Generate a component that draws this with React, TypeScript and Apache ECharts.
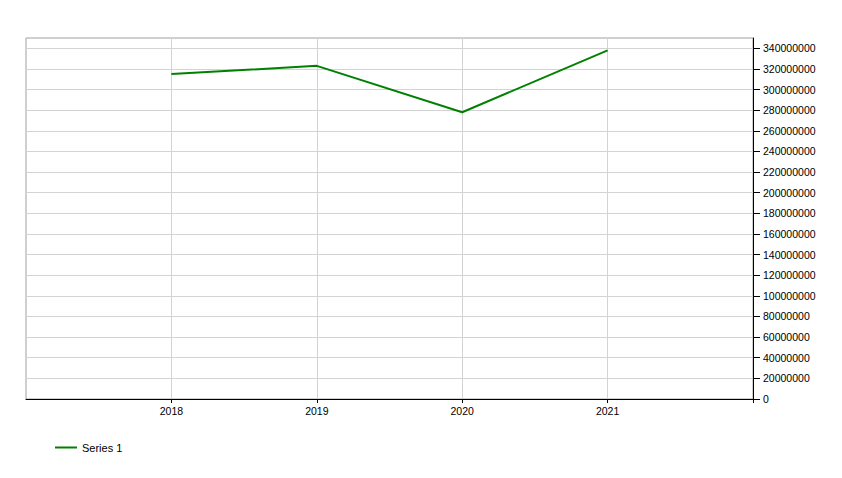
import React, { useEffect, useRef } from "react";
import * as echarts from "echarts";

const categories = [2018, 2019, 2020, 2021];
const seriesName = "Series 1";
const seriesValues = [315000000, 323000000, 278000000, 338000000];
const yTicks = [
  0, 20000000, 40000000, 60000000, 80000000, 100000000, 120000000, 140000000,
  160000000, 180000000, 200000000, 220000000, 240000000, 260000000, 280000000,
  300000000, 320000000, 340000000,
];
const xTickValues = [2018, 2019, 2020, 2021, 2022];

export default function App() {
  const ref = useRef<HTMLDivElement>(null);
  useEffect(() => {
    if (!ref.current) return;
    const chart = echarts.init(ref.current, undefined, { renderer: "svg" });
    const font = "'Liberation Sans', Arial, sans-serif";
    chart.setOption({
      animation: false,
      backgroundColor: "#ffffff",
      grid: {
        left: 26,
        right: 89,
        top: 38,
        bottom: 79,
        show: true,
        borderColor: "#a0a0a0",
        borderWidth: 1,
        backgroundColor: "transparent",
      },
      legend: {
        show: true,
        left: 55,
        top: 442,
        padding: 0,
        icon: "rect",
        itemWidth: 22,
        itemHeight: 2,
        itemGap: 10,
        textStyle: { fontFamily: font, fontSize: 11, color: "#000" },
        data: [seriesName],
      },
      xAxis: {
        type: "value",
        min: 2017,
        max: 2022,
        interval: 1,
        axisLine: { show: true, onZero: false, lineStyle: { color: "#000", width: 1 } },
        axisTick: {
          show: true,
          length: 4,
          lineStyle: { color: "#000" },
          customValues: xTickValues,
        },
        axisLabel: {
          fontFamily: font,
          fontSize: 10.5,
          color: "#000",
          margin: 6,
          customValues: categories,
          formatter: (v: number) => String(v),
        },
        splitLine: { show: true, lineStyle: { color: "#d3d3d3", width: 1 } },
      },
      yAxis: {
        type: "value",
        position: "right",
        min: 0,
        max: 350000000,
        interval: 20000000,
        axisLine: { show: true, lineStyle: { color: "#000", width: 1 } },
        axisTick: {
          show: true,
          length: 7,
          lineStyle: { color: "#000" },
          customValues: yTicks,
        },
        axisLabel: {
          fontFamily: font,
          fontSize: 10.5,
          color: "#000",
          margin: 10,
          customValues: yTicks,
          formatter: (v: number) => String(v),
        },
        splitLine: { show: true, lineStyle: { color: "#d3d3d3", width: 1 } },
      },
      series: [
        {
          name: seriesName,
          type: "line",
          data: categories.map((c, i) => [c, seriesValues[i]]),
          showSymbol: false,
          symbol: "none",
          lineStyle: { color: "#008000", width: 2 },
          itemStyle: { color: "#008000" },
        },
      ],
    });
    return () => chart.dispose();
  }, []);
  return (
    <div
      ref={ref}
      style={{ position: "fixed", left: 0, top: 0, width: 842, height: 478 }}
    />
  );
}
